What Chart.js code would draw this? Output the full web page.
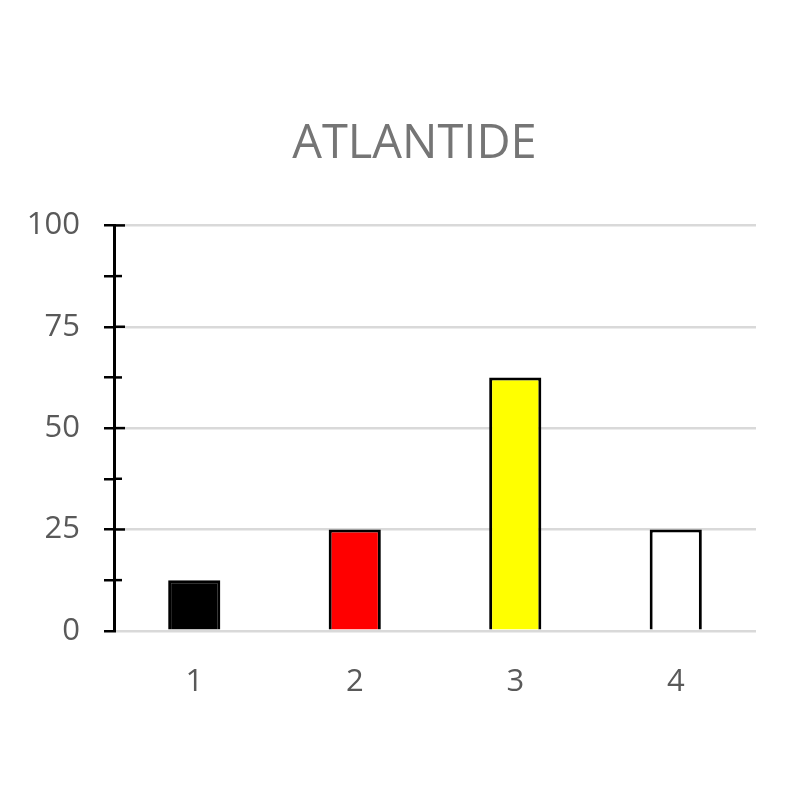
<!DOCTYPE html>
<html>
<head>
<meta charset="utf-8">
<title>ATLANTIDE</title>
<script src="https://cdn.jsdelivr.net/npm/chart.js@4/dist/chart.umd.min.js"></script>
<style>
  html, body { margin: 0; padding: 0; background: #ffffff; overflow: hidden; }
  canvas { display: block; }
</style>
</head>
<body>
<canvas id="atlantide" width="800" height="800"></canvas>
<script>
// chart data
var categories = ["1", "2", "3", "4"];
var values = [12.5, 25, 62.5, 25];
var barColors = ["#000000", "#ff0000", "#ffff00", "#ffffff"];
var yTickLabels = [0, 25, 50, 75, 100];

// short black marks to the right of the y axis (ticks cross the axis line)
var crossTicks = {
  id: "crossTicks",
  afterDatasetsDraw: function (chart) {
    var y = chart.scales.y;
    var ctx = chart.ctx;
    var x0 = y.right;
    ctx.save();
    ctx.strokeStyle = "#000000";
    ctx.lineWidth = 2.5;
    y.ticks.forEach(function (t) {
      if (t.value <= 0) {
        return;
      }
      var py = y.getPixelForValue(t.value);
      var len = yTickLabels.indexOf(t.value) !== -1 ? 11 : 8;
      ctx.beginPath();
      ctx.moveTo(x0, py);
      ctx.lineTo(x0 + len, py);
      ctx.stroke();
    });
    ctx.restore();
  }
};

new Chart(document.getElementById("atlantide"), {
  type: "bar",
  data: {
    labels: categories,
    datasets: [
      {
        data: values,
        backgroundColor: barColors,
        borderColor: "#000000",
        borderWidth: 3,
        borderSkipped: "bottom",
        categoryPercentage: 1,
        barPercentage: 0.325
      }
    ]
  },
  options: {
    responsive: false,
    animation: false,
    devicePixelRatio: 1,
    layout: {
      padding: { top: 16, left: 24, right: 44, bottom: 66 }
    },
    plugins: {
      legend: { display: false },
      tooltip: { enabled: false },
      title: {
        display: true,
        // leading spaces nudge the title to the right, as in the original
        text: "\u00a0\u00a0\u00a0\u00a0ATLANTIDE",
        color: "#757575",
        font: { family: "Open Sans", size: 47, weight: "normal" },
        padding: { top: 100, bottom: 53 }
      }
    },
    scales: {
      x: {
        grid: { display: false, drawTicks: false },
        border: { display: false },
        ticks: {
          color: "#595959",
          font: { family: "Open Sans", size: 31 },
          padding: 33
        }
      },
      y: {
        min: 0,
        max: 100,
        afterFit: function (scale) {
          scale.width = 90;
        },
        border: { color: "#000000", width: 3 },
        grid: {
          color: function (c) {
            return yTickLabels.indexOf(c.tick.value) !== -1 ? "#d9d9d9" : "rgba(0,0,0,0)";
          },
          lineWidth: 2.5,
          tickColor: "#000000",
          tickWidth: 2.5,
          tickLength: 10
        },
        ticks: {
          stepSize: 12.5,
          color: "#595959",
          font: { family: "Open Sans", size: 31 },
          padding: 24,
          callback: function (v) {
            return yTickLabels.indexOf(v) !== -1 ? v : "";
          }
        }
      }
    }
  },
  plugins: [crossTicks]
});
</script>
</body>
</html>
